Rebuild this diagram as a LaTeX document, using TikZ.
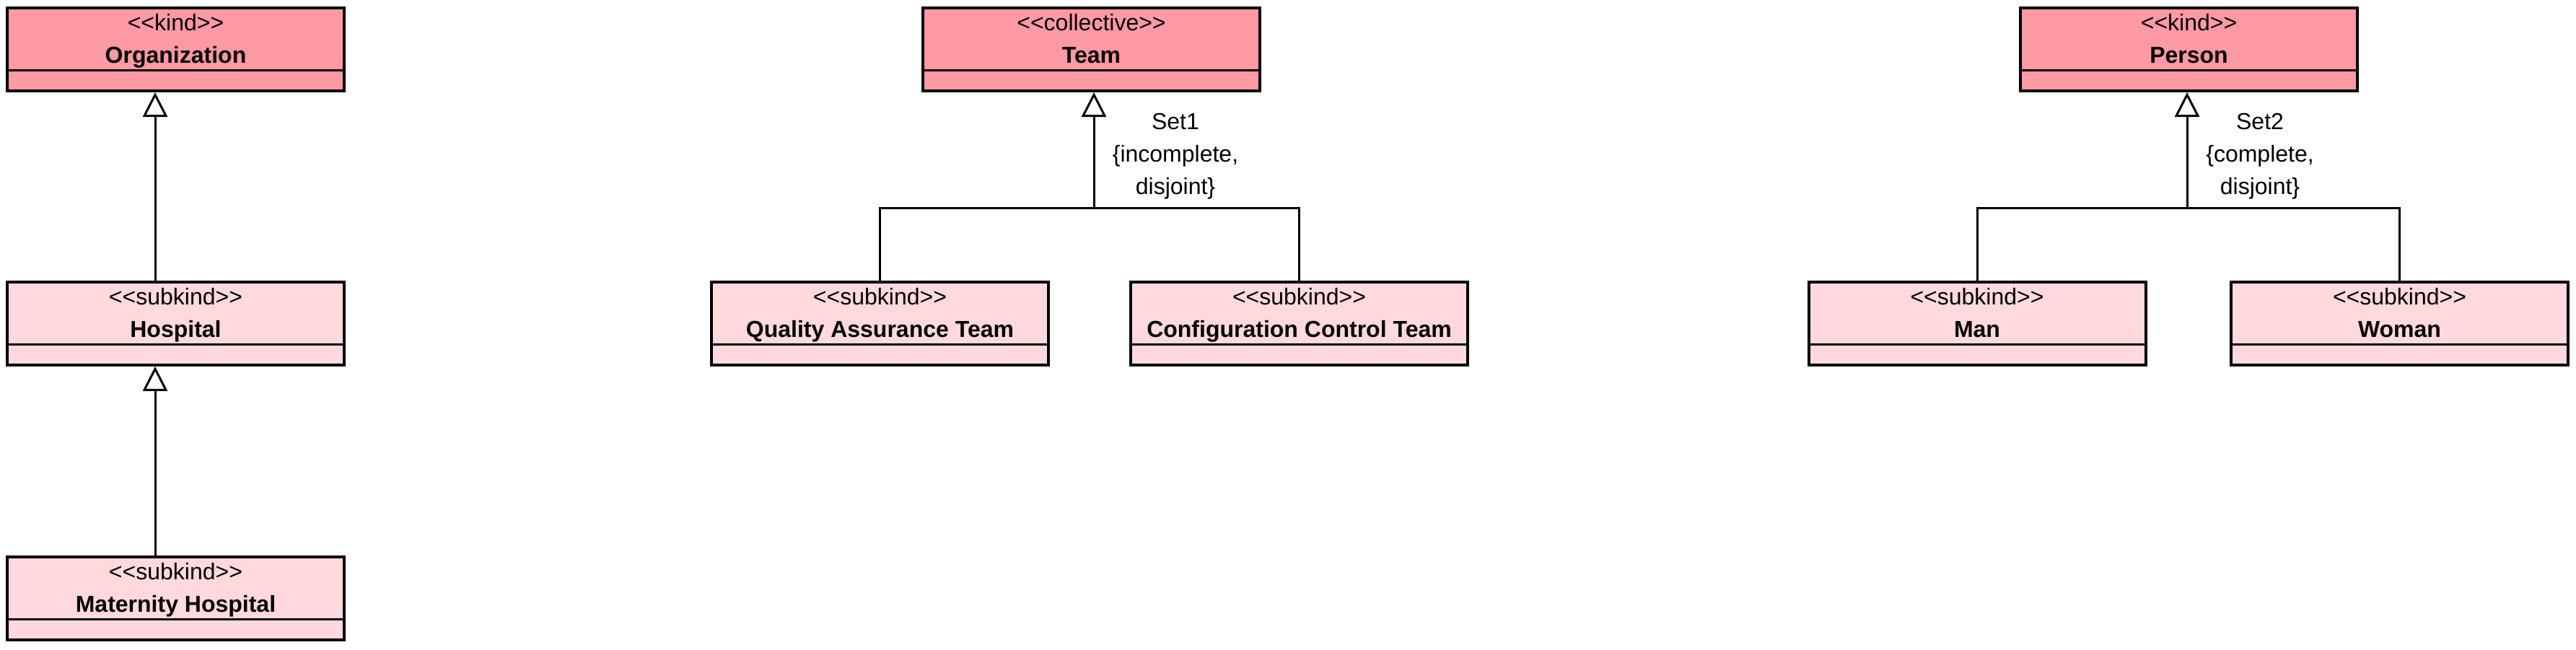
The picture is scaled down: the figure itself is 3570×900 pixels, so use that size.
\documentclass[tikz,border=0pt]{standalone}
\usepackage{fontspec}
\setmainfont{Liberation Sans}
\usetikzlibrary{arrows.meta}
\definecolor{kindpink}{RGB}{255,153,164}
\definecolor{subpink}{RGB}{255,217,222}
\tikzset{
  classbox/.style={draw=black, line width=2pt, minimum width=233.5pt, minimum height=57.5pt, inner sep=0pt, anchor=north west},
  sepline/.style={line width=1.5pt},
  stereotxt/.style={font=\fontsize{16}{19}\selectfont, inner sep=0pt, anchor=base},
  titletxt/.style={font=\bfseries\fontsize{16}{19}\selectfont, inner sep=0pt, anchor=base},
  genline/.style={line width=1.5pt},
  genarrow/.style={line width=1.5pt, -{Triangle[open, length=17pt, width=17pt, fill=white]}},
  settxt/.style={font=\fontsize{16}{22.5}\selectfont, inner sep=0pt, align=center, anchor=north},
}
\newcommand\umlbox[6]{%
  \node[classbox, fill=#4] (#1) at (#2,#3) {};
  \draw[sepline] ([yshift=-44pt]#1.north west) -- ([yshift=-44pt]#1.north east);
  \node[stereotxt] (#1-st) at ([yshift=-16.5pt]#1.north) {#5};
  \node[titletxt] (#1-nm) at ([yshift=-39pt]#1.north) {#6};
}
\begin{document}
\begin{tikzpicture}[x=0.5pt, y=-0.5pt]
\useasboundingbox (0,0) rectangle (3570,900);
% left column
\umlbox{org}{8}{9}{kindpink}{<{}<kind>{}>}{Organization}
\umlbox{hosp}{8}{389}{subpink}{<{}<subkind>{}>}{Hospital}
\umlbox{mat}{8}{770}{subpink}{<{}<subkind>{}>}{Maternity Hospital}
\draw[genarrow] ([xshift=-14.25pt]hosp.north) -- ([xshift=-14.25pt]org.south);
\draw[genarrow] ([xshift=-14.25pt]mat.north) -- ([xshift=-14.25pt]hosp.south);
% middle
\umlbox{team}{1277}{9}{kindpink}{<{}<collective>{}>}{Team}
\umlbox{qa}{984}{389}{subpink}{<{}<subkind>{}>}{Quality Assurance Team}
\umlbox{cct}{1565}{389}{subpink}{<{}<subkind>{}>}{Configuration Control Team}
\coordinate (j1) at (1516,288);
\draw[genline] (qa.north) |- (j1) -| (cct.north);
\draw[genarrow] (j1) -- (j1 |- team.south);
\node[settxt] (set1) at (1629,157) {Set1\\\{incomplete,\\disjoint\}};
% right
\umlbox{person}{2798}{9}{kindpink}{<{}<kind>{}>}{Person}
\umlbox{man}{2504.5}{389}{subpink}{<{}<subkind>{}>}{Man}
\umlbox{woman}{3090}{389}{subpink}{<{}<subkind>{}>}{Woman}
\coordinate (j2) at (3031,288);
\draw[genline] (man.north) |- (j2) -| (woman.north);
\draw[genarrow] (j2) -- (j2 |- person.south);
\node[settxt] (set2) at (3132,157) {Set2\\\{complete,\\disjoint\}};
\end{tikzpicture}
\end{document}
